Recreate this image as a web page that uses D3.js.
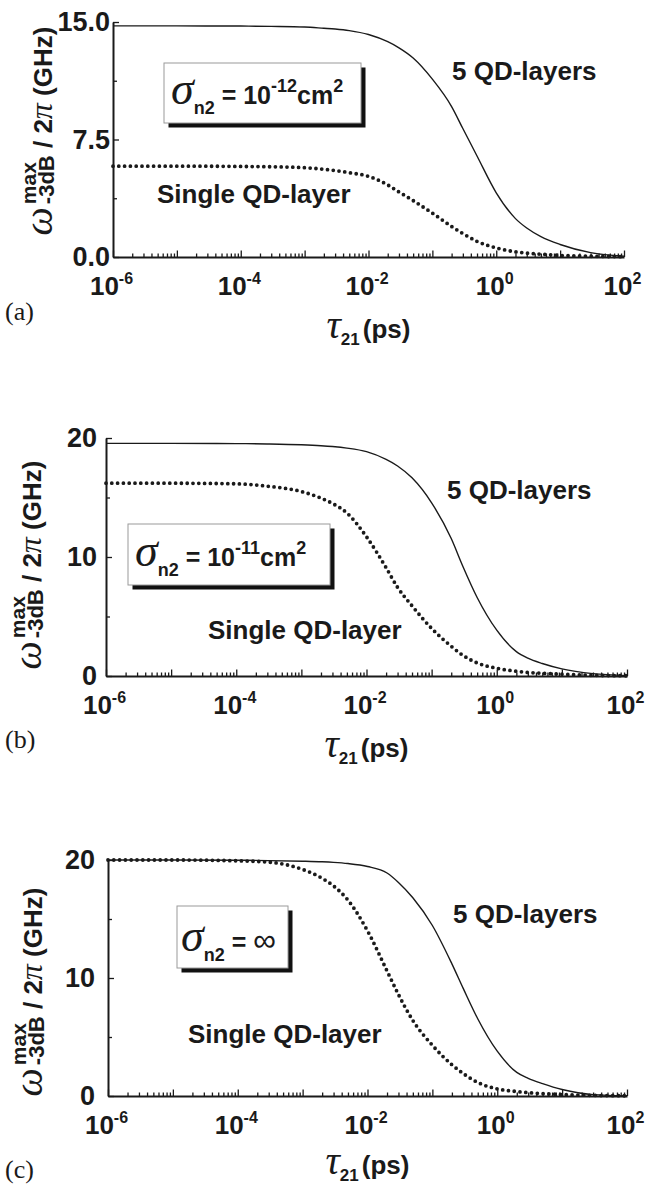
<!DOCTYPE html>
<html>
<head>
<meta charset="utf-8">
<script src="https://cdn.jsdelivr.net/npm/d3@7"></script>
<style>
  body { margin: 0; background: #fff; }
</style>
</head>
<body>
<div id="chart"></div>
<script>
// tau_21 sample points (ps)
var tau = [1e-6, 1e-5, 1e-4, 3e-4, 1e-3, 2e-3, 3e-3, 5e-3, 1e-2, 2e-2, 3e-2, 5e-2,
           0.1, 0.2, 0.3, 0.5, 1, 2, 3, 5, 10, 30, 100];

// (a) sigma_n2 = 1e-12 cm^2
var aFive   = [14.75, 14.75, 14.74, 14.72, 14.68, 14.6, 14.55, 14.45, 14.2, 13.74, 13.35, 12.7,
               11.35, 9.6, 8.2, 6.45, 4.1, 2.45, 1.85, 1.3, 0.8, 0.28, 0.05];
var aSingle = [5.8, 5.8, 5.78, 5.76, 5.7, 5.6, 5.52, 5.38, 5.15, 4.6, 4.15, 3.6,
               2.8, 1.95, 1.5, 1.0, 0.58, 0.33, 0.25, 0.18, 0.1, 0.05, 0.02];
// (b) sigma_n2 = 1e-11 cm^2
var bFive   = [19.55, 19.55, 19.53, 19.5, 19.43, 19.35, 19.28, 19.15, 18.85, 18.2, 17.65, 16.65,
               14.55, 11.55, 9.25, 6.6, 3.85, 2.05, 1.5, 1.05, 0.6, 0.2, 0.03];
var bSingle = [16.2, 16.2, 16.15, 15.95, 15.5, 14.95, 14.5, 13.7, 11.7, 9.1, 7.45, 5.9,
               4.0, 2.5, 1.75, 1.1, 0.65, 0.4, 0.3, 0.23, 0.15, 0.06, 0.02];
// (c) sigma_n2 = infinity
var cFive   = [20, 20, 19.98, 19.95, 19.9, 19.85, 19.8, 19.7, 19.45, 18.9, 18.1, 16.8,
               14.45, 11.2, 9.1, 6.55, 3.8, 2.0, 1.5, 1.05, 0.55, 0.12, 0.02];
var cSingle = [20, 20, 19.93, 19.82, 19.2, 18.45, 17.8, 16.6, 14.0, 10.6, 8.6, 6.4,
               4.3, 2.65, 1.9, 1.15, 0.6, 0.38, 0.28, 0.2, 0.12, 0.05, 0.02];

// ticks
var xDecades = [1e-6, 1e-5, 1e-4, 1e-3, 1e-2, 1e-1, 1, 10, 100];
var aYTicks = [0, 7.5, 15], aYMinor = [3.75, 11.25], aYLabels = ["0.0", "7.5", "15.0"];
var bYTicks = [0, 10, 20], bYMinor = [5, 15], bYLabels = ["0", "10", "20"];

var ink = "#1a1a1a";
var sans = "'Liberation Sans', Arial, Helvetica, sans-serif";
var serif = "'Liberation Serif', 'Times New Roman', serif";

var svg = d3.select('#chart')
  .append('svg')
    .attr('width', 647)
    .attr('height', 1188);

// panel layout
var panels = [
  { tag: "(a)", five: aFive, single: aSingle, yMax: 15, yTicks: aYTicks, yMinor: aYMinor, yLabels: aYLabels,
    left: 113, right: 624, top: 22, bottom: 257, yPad: 3,
    yLabX: 52, yLabY: 131, xLabY: 338, tagY: 320,
    box: {x: 164, y: 63, w: 197, h: 60, tx: 171, ty: 104}, sigma: "-12",
    fiveAt: [452, 80], singleAt: [157, 203] },
  { tag: "(b)", five: bFive, single: bSingle, yMax: 20, yTicks: bYTicks, yMinor: bYMinor, yLabels: bYLabels,
    left: 106, right: 627, top: 438, bottom: 676, yPad: 9,
    yLabX: 41, yLabY: 565, xLabY: 757, tagY: 748,
    box: {x: 128, y: 524, w: 202, h: 61, tx: 135, ty: 566}, sigma: "-11",
    fiveAt: [447, 499], singleAt: [208, 639] },
  { tag: "(c)", five: cFive, single: cSingle, yMax: 20, yTicks: bYTicks, yMinor: bYMinor, yLabels: bYLabels,
    left: 108, right: 627, top: 860, bottom: 1096, yPad: 13,
    yLabX: 42, yLabY: 992, xLabY: 1174, tagY: 1178,
    box: {x: 177, y: 906, w: 111, h: 62, tx: 181, ty: 951}, sigma: null,
    fiveAt: [453, 923], singleAt: [188, 1043] }
];

panels.forEach(drawPanel);

function drawPanel(p) {
  var x = d3.scaleLog().domain([1e-6, 1e2]).range([p.left, p.right]);
  var y = d3.scaleLinear().domain([0, p.yMax]).range([p.bottom, p.top]);

  // Y axis (ticks point inward)
  var yAxis = svg.append('g')
    .attr('transform', `translate(${p.left},0)`)
    .call(d3.axisLeft(y)
      .tickValues(p.yTicks)
      .tickSizeInner(-6)
      .tickSizeOuter(0)
      .tickPadding(p.yPad)
      .tickFormat((d, i) => p.yLabels[i]));
  svg.append('g')
    .attr('transform', `translate(${p.left},0)`)
    .call(d3.axisLeft(y).tickValues(p.yMinor).tickSizeInner(-4).tickSizeOuter(0).tickFormat(''))
    .call(g => g.select('.domain').remove());

  // X axis, major decades + minor ticks
  var minor = [];
  for (var e = -6; e < 2; e++) {
    for (var k = 2; k < 10; k++) minor.push(k * Math.pow(10, e));
  }
  svg.append('g')
    .attr('transform', `translate(0,${p.bottom})`)
    .call(d3.axisBottom(x).tickValues(minor).tickSizeInner(-3.5).tickSizeOuter(0).tickFormat(''))
    .call(g => g.select('.domain').remove());
  var xAxis = svg.append('g')
    .attr('transform', `translate(0,${p.bottom})`)
    .call(d3.axisBottom(x)
      .tickValues(xDecades)
      .tickSizeInner(-6.5)
      .tickSizeOuter(0)
      .tickFormat(''));

  [xAxis, yAxis].forEach(function(a) {
    a.attr('font-family', sans).attr('font-size', 27).attr('font-weight', 'bold');
    a.select('.domain').attr('stroke', ink).attr('stroke-width', 2);
  });

  xAxis.selectAll('.tick text').each(function(d) {
    var ex = Math.round(Math.log10(d));
    var s = d3.select(this).text(null).attr('y', 38).attr('dy', null).attr('dx', -2)
      .attr('font-size', 26);
    if (ex % 2 !== 0) return;
    s.append('tspan').text('10');
    s.append('tspan').attr('font-size', 16).attr('dy', -11).text(ex);
  });
  svg.selectAll('text').attr('fill', ink);
  svg.selectAll('.tick line').attr('stroke', ink).attr('stroke-width', 1.3);

  // Curves
  var line = d3.line()
    .x(d => x(d[0]))
    .y(d => y(d[1]))
    .curve(d3.curveMonotoneX);

  svg.append('path')
    .datum(d3.zip(tau, p.five))
    .attr('fill', 'none')
    .attr('stroke', ink)
    .attr('stroke-width', 1.4)
    .attr('d', line);

  svg.append('path')
    .datum(d3.zip(tau, p.single))
    .attr('fill', 'none')
    .attr('stroke', ink)
    .attr('stroke-width', 3.8)
    .attr('stroke-linecap', 'round')
    .attr('stroke-dasharray', '0,5.8')
    .attr('d', line);

  // Curve annotations
  svg.append('text')
    .attr('x', p.fiveAt[0]).attr('y', p.fiveAt[1])
    .attr('font-family', sans).attr('font-weight', 'bold').attr('font-size', 26)
    .attr('fill', ink)
    .text('5 QD-layers');
  svg.append('text')
    .attr('x', p.singleAt[0]).attr('y', p.singleAt[1])
    .attr('font-family', sans).attr('font-weight', 'bold').attr('font-size', 26)
    .attr('fill', ink)
    .text('Single QD-layer');

  // sigma box with drop shadow
  var b = p.box;
  svg.append('rect')
    .attr('x', b.x + 4.5).attr('y', b.y + 4.5).attr('width', b.w).attr('height', b.h)
    .attr('fill', '#111');
  svg.append('rect')
    .attr('x', b.x).attr('y', b.y).attr('width', b.w).attr('height', b.h)
    .attr('fill', '#fff').attr('stroke', '#9a9a9a').attr('stroke-width', 1);

  var lt = svg.append('text')
    .attr('x', b.tx).attr('y', b.ty)
    .attr('font-family', sans).attr('font-weight', 'bold').attr('font-size', 25)
    .attr('fill', ink);
  lt.append('tspan').attr('font-family', serif).attr('font-style', 'italic')
    .attr('font-weight', 'normal').attr('font-size', 46).text('σ');
  lt.append('tspan').attr('font-size', 18).attr('dy', 10).text('n2');
  if (p.sigma) {
    lt.append('tspan').attr('dy', -10).text(' = 10');
    lt.append('tspan').attr('font-size', 18).attr('dy', -12).text(p.sigma);
    lt.append('tspan').attr('dy', 12).text('cm');
    lt.append('tspan').attr('font-size', 18).attr('dy', -12).text('2');
  } else {
    lt.append('tspan').attr('dy', -10).text(' = ');
    lt.append('tspan').attr('font-size', 32).attr('font-weight', 'normal').text('∞');
  }

  // Y axis label (rotated), centred from its measured box
  var yl = svg.append('text')
    .attr('font-family', sans).attr('font-weight', 'bold').attr('font-size', 26)
    .attr('fill', ink);
  yl.append('tspan').attr('font-family', serif).attr('font-style', 'italic')
    .attr('font-weight', 'normal').attr('font-size', 40).text('ω');
  var sup = yl.append('tspan').attr('font-size', 21).attr('dx', 3).attr('dy', -16).text('max');
  var supW = sup.node().getComputedTextLength();
  yl.append('tspan').attr('font-size', 22).attr('dx', -supW).attr('dy', 18).text('-3dB');
  yl.append('tspan').attr('dy', -2).text(' / 2');
  yl.append('tspan').attr('font-family', serif).attr('font-style', 'italic')
    .attr('font-weight', 'normal').attr('font-size', 32).text('π');
  yl.append('tspan').text(' (GHz)');
  var yb = yl.node().getBBox();
  yl.attr('transform', `translate(${p.yLabX},${p.yLabY + yb.x + yb.width / 2}) rotate(-90)`);

  // X axis label
  var xl = svg.append('text')
    .attr('y', p.xLabY)
    .attr('font-family', sans).attr('font-weight', 'bold').attr('font-size', 26)
    .attr('fill', ink);
  xl.append('tspan').attr('font-family', serif).attr('font-style', 'italic')
    .attr('font-weight', 'normal').attr('font-size', 40).text('τ');
  xl.append('tspan').attr('font-size', 17).attr('dy', 7).text('21');
  xl.append('tspan').attr('dx', 3).attr('dy', -7).text('(ps)');
  var xb = xl.node().getBBox();
  xl.attr('x', (p.left + p.right) / 2 - xb.width / 2);

  // panel tag
  svg.append('text')
    .attr('x', 5).attr('y', p.tagY)
    .attr('font-family', serif).attr('font-size', 26)
    .attr('fill', ink)
    .text(p.tag);
}
</script>
</body>
</html>
